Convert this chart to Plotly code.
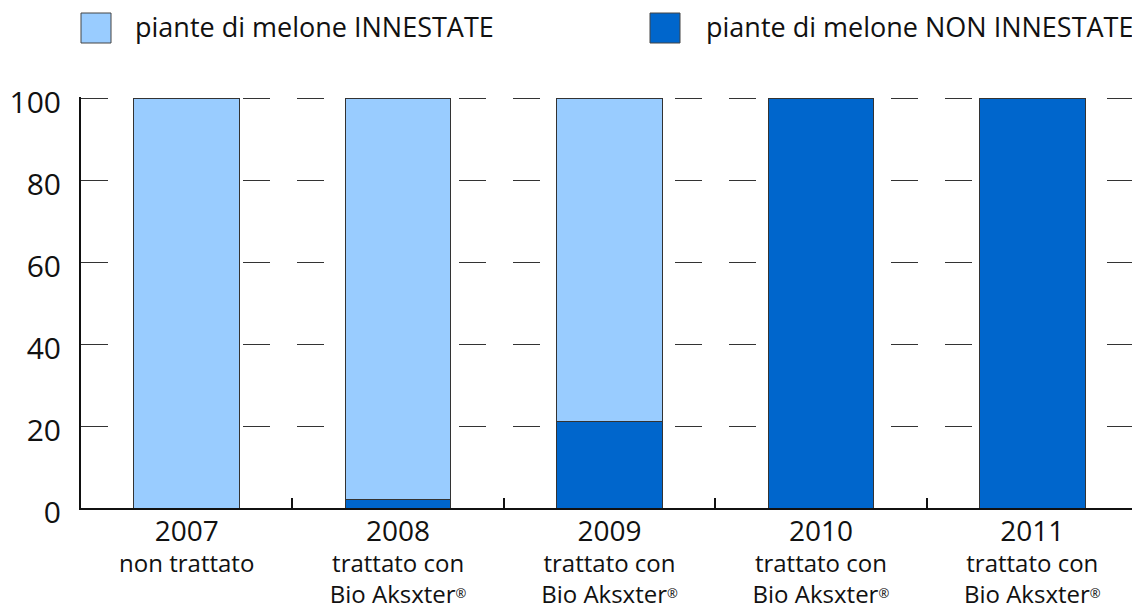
import plotly.graph_objects as go

years = ["2007", "2008", "2009", "2010", "2011"]
reg = "<span style='font-size:13px;baseline-shift:40%'>®</span>"
line1 = ["non trattato", "trattato con", "trattato con", "trattato con", "trattato con"]
line2 = ["", "Bio Aksxter" + reg, "Bio Aksxter" + reg, "Bio Aksxter" + reg, "Bio Aksxter" + reg]
non_innestate = [0, 2, 21, 100, 100]
innestate = [100, 98, 79, 0, 0]
name_inn = "piante di melone INNESTATE"
name_non = "piante di melone NON INNESTATE"
col_inn = "#99CCFF"
col_non = "#0066CC"
y_ticks = [0, 20, 40, 60, 80, 100]

FONT = "Open Sans"
OFF = 8  # page body margin
W, H = 1140 - OFF, 609 - OFF
ML, MR, MT, MB = 81 - OFF, 2, 97 - OFF, 101
PW, PH = W - ML - MR, H - MT - MB

def px_x(p):
    return (p - OFF - ML) / PW

def px_y(p):
    return (H - MB - (p - OFF)) / PH

ticktext = []
for y, a, b in zip(years, line1, line2):
    t = f"<span style='font-size:28px'>{y}</span><br>{a}"
    if b:
        t += f"<br>{b}"
    ticktext.append(t)

fig = go.Figure()
fig.add_trace(go.Bar(x=years, y=non_innestate, name=name_non, marker_color=col_non,
                     marker_line=dict(color="#333333", width=1)))
fig.add_trace(go.Bar(x=years, y=innestate, name=name_inn, marker_color=col_inn,
                     marker_line=dict(color="#333333", width=1)))

fig.update_layout(
    width=W, height=H,
    barmode="stack", bargap=0.5,
    showlegend=False,
    plot_bgcolor="white", paper_bgcolor="white",
    margin=dict(l=ML, r=MR, t=MT, b=MB, autoexpand=False),
    font=dict(family=FONT, color="#111111"),
)
fig.update_xaxes(
    tickmode="array", tickvals=years, ticktext=ticktext,
    tickfont=dict(size=24, family=FONT, color="#111111"),
    showline=True, linecolor="#111111", linewidth=2,
    tickson="boundaries", ticks="inside", ticklen=10, tickcolor="#111111", tickwidth=1.5,
    showgrid=False, range=[-0.5, 4.5], automargin=False, ticklabelstandoff=2,
)
fig.update_yaxes(
    range=[0, 100.3], tickvals=y_ticks,
    tickfont=dict(size=30, family=FONT, color="#111111"),
    showline=True, linecolor="#111111", linewidth=2,
    showgrid=True, gridcolor="#333333", gridwidth=1.2, griddash="27px,27px",
    ticks="", ticklabelstandoff=12, ticklabelshift=4, zeroline=False, automargin=False,
)

# legend drawn at the top
legend_items = [(name_inn, col_inn, 81, 133), (name_non, col_non, 650, 704)]
for name, col, sx, tx in legend_items:
    fig.add_shape(type="rect", xref="paper", yref="paper",
                  x0=px_x(sx), x1=px_x(sx + 30), y0=px_y(43), y1=px_y(13),
                  fillcolor=col, line=dict(color="#444444", width=1))
    fig.add_annotation(xref="paper", yref="paper", x=px_x(tx), y=px_y(26),
                       text=name, showarrow=False, xanchor="left", yanchor="middle",
                       font=dict(size=27, family=FONT, color="#111111"))

fig.write_html("out.html")
